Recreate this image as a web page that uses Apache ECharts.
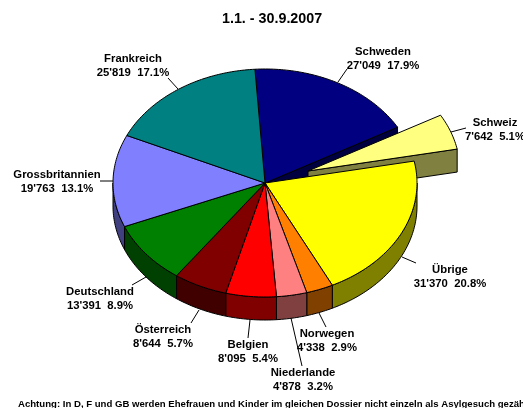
<!DOCTYPE html>
<html><head><meta charset="utf-8">
<style>html,body{margin:0;padding:0;background:#fff}#c{width:523px;height:408px}</style>
<script src="https://cdn.jsdelivr.net/npm/echarts@6/dist/echarts.min.js"></script>
</head><body><div id="c"></div>
<script>
const titleText = "1.1. - 30.9.2007";
const noteText = "Achtung: In D, F und GB werden Ehefrauen und Kinder im gleichen Dossier nicht einzeln als Asylgesuch gezählt";
// clockwise, starting at Schweden
const categories = ["Schweden","Schweiz","Übrige","Norwegen","Niederlande","Belgien","Österreich","Deutschland","Grossbritannien","Frankreich"];
const values = [27049,7642,31370,4338,4878,8095,8644,13391,19763,25819];
const topColors = ["#000080","#ffff80","#ffff00","#ff8000","#ff8080","#ff0000","#800000","#008000","#8080ff","#008080"];
const sideColors = ["#000040","#808040","#808000","#804000","#804040","#800000","#400000","#004000","#404080","#004040"];
// label placement: text centre x, first-line y, leader from, leader to
const labelPos = [
 [383,52,338,82,347,69],[495,123,451,132,466,128],[450,270,402,257,416,263],[327,334,319,313,326,327],
 [303,373,291,318,302,366],[248,345,250,320,248,338],[163,330,199,310,191,323],[100,292,146,277,132,285],
 [57,175,113,181,100,181],[133,59,178,89,168,78]
];
const cx=265, cy=183, rx=152, ry=114, depth=23, startDeg=-3.8, explodeIdx=1, explodeDx=43, explodeDy=-12;
const total = values.reduce((a,b)=>a+b,0);
const fmt = v => String(v).replace(/\B(?=(\d{3})+$)/g,"'");
const chart = echarts.init(document.getElementById('c'),null,{renderer:'canvas'});
function pt(deg,ox,oy,dz){const r=deg*Math.PI/180;return [cx+ox+rx*Math.sin(r),cy+oy-ry*Math.cos(r)+(dz||0)];}
function renderItem(params,api){
  const i=params.dataIndex;
  let before=0; for(let k=0;k<i;k++) before+=values[k];
  const a0=startDeg+before/total*360, a1=a0+api.value(0)/total*360;
  const ex=i===explodeIdx, ox=ex?explodeDx:0, oy=ex?explodeDy:0;
  const kids=[];
  const line={stroke:'#000',lineWidth:1};
  const zTop = (i===explodeIdx)?3:(i===0?3:5);
  // top face
  const face=[[cx+ox,cy+oy]];
  const steps=Math.max(8,Math.ceil(a1-a0));
  for(let s=0;s<=steps;s++) face.push(pt(a0+(a1-a0)*s/steps,ox,oy));
  // curved wall: front half only
  const w0=Math.max(a0,90), w1=Math.min(a1,270);
  if(w1>w0){
    const up=[],down=[];
    const n=Math.max(4,Math.ceil(w1-w0));
    for(let s=0;s<=n;s++){const d=w0+(w1-w0)*s/n;up.push(pt(d,ox,oy));down.unshift(pt(d,ox,oy,depth));}
    kids.push({type:'polygon',z2:1,shape:{points:up.concat(down)},style:Object.assign({fill:sideColors[i]},line)});
  }
  // radial cut faces exposed by the exploded slice
  if(i===0||ex){
    const c=[cx+ox,cy+oy],e=pt(a1,ox,oy);
    kids.push({type:'polygon',z2:ex?2:1,shape:{points:[c,e,[e[0],e[1]+depth],[c[0],c[1]+depth]]},style:Object.assign({fill:sideColors[i]},line)});
  }
  kids.push({type:'polygon',z2:zTop,shape:{points:face},style:Object.assign({fill:topColors[i]},line)});
  const p=labelPos[i];
  kids.push({type:'line',z2:6,shape:{x1:p[2],y1:p[3],x2:p[4],y2:p[5]},style:line});
  const font='bold 11.3px "Liberation Sans"';
  kids.push({type:'text',z2:7,style:{x:p[0],y:p[1],text:categories[i],font,fill:'#000',align:'center',verticalAlign:'middle'}});
  kids.push({type:'text',z2:7,style:{x:p[0],y:p[1]+13.5,text:fmt(values[i])+"  "+(values[i]/total*100).toFixed(1)+"%",font,fill:'#000',align:'center',verticalAlign:'middle'}});
  return {type:'group',children:kids};
}
chart.setOption({
  animation:false,
  backgroundColor:'#fff',
  title:[
    {text:titleText,left:222,top:12,padding:0,textStyle:{fontFamily:'Liberation Sans',fontWeight:'bold',fontSize:14.3,color:'#000'}},
    {text:noteText,left:18,top:399,padding:0,textStyle:{fontFamily:'Liberation Sans',fontWeight:'bold',fontSize:9.6,color:'#000'}}
  ],
  series:[{type:'custom',coordinateSystem:'none',renderItem,data:values.map(v=>[v]),silent:true}]
});
</script></body></html>
